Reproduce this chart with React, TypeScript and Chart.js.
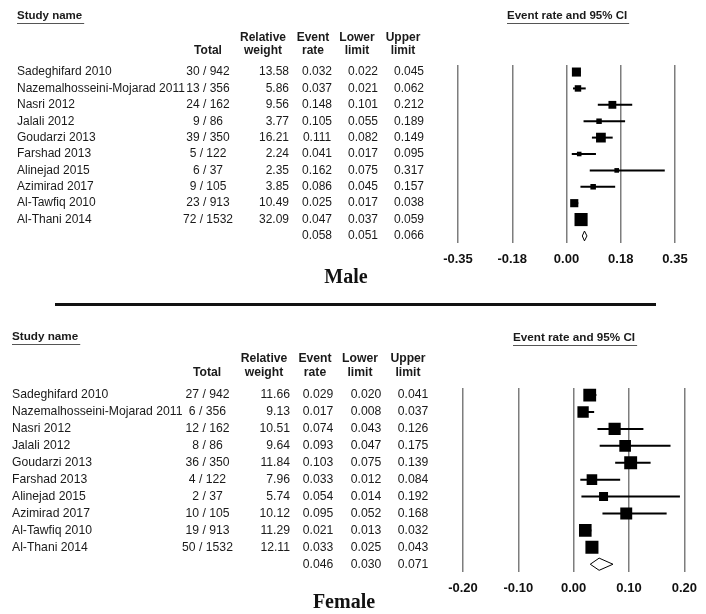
import React, { useEffect, useRef } from 'react';
import { Chart, registerables } from 'chart.js';

Chart.register(...registerables);

// ---------------- DATA ----------------
const studyNames = [
  'Sadeghifard 2010',
  'Nazemalhosseini-Mojarad 2011',
  'Nasri 2012',
  'Jalali 2012',
  'Goudarzi 2013',
  'Farshad 2013',
  'Alinejad 2015',
  'Azimirad 2017',
  'Al-Tawfiq 2010',
  'Al-Thani 2014',
];
const studyTotals = [942, 356, 162, 86, 350, 122, 37, 105, 913, 1532];

const maleEvents = [30, 13, 24, 9, 39, 5, 6, 9, 23, 72];
const maleWeights = [13.58, 5.86, 9.56, 3.77, 16.21, 2.24, 2.35, 3.85, 10.49, 32.09];
const maleRates = [0.032, 0.037, 0.148, 0.105, 0.111, 0.041, 0.162, 0.086, 0.025, 0.047];
const maleLower = [0.022, 0.021, 0.101, 0.055, 0.082, 0.017, 0.075, 0.045, 0.017, 0.037];
const maleUpper = [0.045, 0.062, 0.212, 0.189, 0.149, 0.095, 0.317, 0.157, 0.038, 0.059];
const maleSummary = [0.058, 0.051, 0.066]; // rate, lower, upper
const maleTicks = [-0.35, -0.175, 0, 0.175, 0.35];
const maleTickLabels = ['-0.35', '-0.18', '0.00', '0.18', '0.35'];

const femaleEvents = [27, 6, 12, 8, 36, 4, 2, 10, 19, 50];
const femaleWeights = [11.66, 9.13, 10.51, 9.64, 11.84, 7.96, 5.74, 10.12, 11.29, 12.11];
const femaleRates = [0.029, 0.017, 0.074, 0.093, 0.103, 0.033, 0.054, 0.095, 0.021, 0.033];
const femaleLower = [0.02, 0.008, 0.043, 0.047, 0.075, 0.012, 0.014, 0.052, 0.013, 0.025];
const femaleUpper = [0.041, 0.037, 0.126, 0.175, 0.139, 0.084, 0.192, 0.168, 0.032, 0.043];
const femaleSummary = [0.046, 0.03, 0.071];
const femaleTicks = [-0.2, -0.1, 0, 0.1, 0.2];
const femaleTickLabels = ['-0.20', '-0.10', '0.00', '0.10', '0.20'];

// ---------------- STYLE / LAYOUT ----------------
const SANS = '"Liberation Sans", Arial, Helvetica, sans-serif';
const SERIF = '"Liberation Serif", "Times New Roman", serif';

type Panel = {
  title: string;
  events: number[];
  weights: number[];
  rates: number[];
  lower: number[];
  upper: number[];
  summary: number[];
  ticks: number[];
  tickLabels: string[];
  canvasTop: number;
  height: number;
  chartTop: number;
  chartBottom: number;
  left: number;
  right: number;
  yMin: number;
  yMax: number;
  sizeA: number;
  sizeK: number;
  diamondHalf: number;
  tickPadding: number;
  rowFont: number;
  headFont: number;
  nameX: number;
  studyHeadY: number;
  ciHeadX: number;
  ciHeadY: number;
  head1Y: number;
  head2Y: number;
  totalHeadX: number;
  totalX: number;
  weightHeadX: number;
  weightRight: number;
  eventHeadX: number;
  eventX: number;
  lowerHeadX: number;
  lowerX: number;
  upperHeadX: number;
  upperX: number;
  titleX: number;
  titleY: number;
};

const malePanel: Panel = {
  title: 'Male',
  events: maleEvents,
  weights: maleWeights,
  rates: maleRates,
  lower: maleLower,
  upper: maleUpper,
  summary: maleSummary,
  ticks: maleTicks,
  tickLabels: maleTickLabels,
  canvasTop: 0,
  height: 300,
  chartTop: 65,
  chartBottom: 243,
  left: 458,
  right: 675,
  yMin: -0.43,
  yMax: 10.43,
  sizeA: 1.5,
  sizeK: 2.05,
  diamondHalf: 0.3,
  tickPadding: 9,
  rowFont: 12,
  headFont: 11.5,
  nameX: 17,
  studyHeadY: 16,
  ciHeadX: 507,
  ciHeadY: 16,
  head1Y: 37.5,
  head2Y: 51,
  totalHeadX: 208,
  totalX: 208,
  weightHeadX: 263,
  weightRight: 289,
  eventHeadX: 313,
  eventX: 317,
  lowerHeadX: 357,
  lowerX: 363,
  upperHeadX: 403,
  upperX: 409,
  titleX: 346,
  titleY: 278,
};

const femalePanel: Panel = {
  title: 'Female',
  events: femaleEvents,
  weights: femaleWeights,
  rates: femaleRates,
  lower: femaleLower,
  upper: femaleUpper,
  summary: femaleSummary,
  ticks: femaleTicks,
  tickLabels: femaleTickLabels,
  canvasTop: 310,
  height: 304,
  chartTop: 78,
  chartBottom: 262,
  left: 463,
  right: 686,
  yMin: -0.42,
  yMax: 10.46,
  sizeA: 0,
  sizeK: 3.75,
  diamondHalf: 0.36,
  tickPadding: 9,
  rowFont: 12.2,
  headFont: 11.7,
  nameX: 12,
  studyHeadY: 27,
  ciHeadX: 513,
  ciHeadY: 28,
  head1Y: 49,
  head2Y: 63,
  totalHeadX: 207,
  totalX: 207.5,
  weightHeadX: 264,
  weightRight: 290,
  eventHeadX: 315,
  eventX: 318,
  lowerHeadX: 360,
  lowerX: 366,
  upperHeadX: 408,
  upperX: 413,
  titleX: 344,
  titleY: 293,
};

function underlined(ctx: CanvasRenderingContext2D, text: string, x: number, y: number) {
  ctx.textAlign = 'left';
  ctx.fillText(text, x, y);
  const w = ctx.measureText(text).width;
  ctx.save();
  ctx.strokeStyle = '#555';
  ctx.lineWidth = 1;
  ctx.beginPath();
  ctx.moveTo(x, Math.round(y + 7) + 0.5);
  ctx.lineTo(x + w + 2, Math.round(y + 7) + 0.5);
  ctx.stroke();
  ctx.restore();
}

function tablePlugin(p: Panel) {
  return {
    id: 'tableText',
    afterDraw(chart: any) {
      const ctx: CanvasRenderingContext2D = chart.ctx;
      const ys = chart.scales.y;
      const n = p.rates.length;
      ctx.save();
      ctx.fillStyle = '#1a1a1a';
      ctx.textBaseline = 'middle';

      ctx.font = `bold ${p.headFont}px ${SANS}`;
      underlined(ctx, 'Study name', p.nameX, p.studyHeadY);
      underlined(ctx, 'Event rate and 95% CI', p.ciHeadX, p.ciHeadY);

      ctx.font = `bold ${p.headFont + 0.5}px ${SANS}`;
      ctx.textAlign = 'center';
      ctx.fillText('Total', p.totalHeadX, p.head2Y);
      ctx.fillText('Relative', p.weightHeadX, p.head1Y);
      ctx.fillText('weight', p.weightHeadX, p.head2Y);
      ctx.fillText('Event', p.eventHeadX, p.head1Y);
      ctx.fillText('rate', p.eventHeadX, p.head2Y);
      ctx.fillText('Lower', p.lowerHeadX, p.head1Y);
      ctx.fillText('limit', p.lowerHeadX, p.head2Y);
      ctx.fillText('Upper', p.upperHeadX, p.head1Y);
      ctx.fillText('limit', p.upperHeadX, p.head2Y);

      ctx.font = `${p.rowFont}px ${SANS}`;
      for (let i = 0; i < n; i++) {
        const y = ys.getPixelForValue(i);
        ctx.textAlign = 'left';
        ctx.fillText(studyNames[i], p.nameX, y);
        ctx.textAlign = 'center';
        ctx.fillText(`${p.events[i]} / ${studyTotals[i]}`, p.totalX, y);
        ctx.textAlign = 'right';
        ctx.fillText(p.weights[i].toFixed(2), p.weightRight, y);
        ctx.textAlign = 'center';
        ctx.fillText(p.rates[i].toFixed(3), p.eventX, y);
        ctx.fillText(p.lower[i].toFixed(3), p.lowerX, y);
        ctx.fillText(p.upper[i].toFixed(3), p.upperX, y);
      }
      const ySum = ys.getPixelForValue(n);
      ctx.textAlign = 'center';
      ctx.fillText(p.summary[0].toFixed(3), p.eventX, ySum);
      ctx.fillText(p.summary[1].toFixed(3), p.lowerX, ySum);
      ctx.fillText(p.summary[2].toFixed(3), p.upperX, ySum);

      ctx.fillStyle = '#111';
      ctx.font = `bold 20px ${SERIF}`;
      ctx.fillText(p.title, p.titleX, p.titleY);
      ctx.restore();
    },
  };
}

function makeConfig(p: Panel): any {
  const n = p.rates.length;
  const whiskers = p.rates.map((_, i) => ({
    data: [
      { x: p.lower[i], y: i },
      { x: p.upper[i], y: i },
    ],
    showLine: true,
    borderColor: '#000',
    borderWidth: 2,
    pointRadius: 0,
    pointHoverRadius: 0,
  }));
  const squares = {
    data: p.rates.map((r, i) => ({ x: r, y: i })),
    showLine: false,
    pointStyle: 'rect',
    pointRadius: p.weights.map((w) => (p.sizeA + p.sizeK * Math.sqrt(w)) / Math.SQRT2),
    pointHoverRadius: p.weights.map((w) => (p.sizeA + p.sizeK * Math.sqrt(w)) / Math.SQRT2),
    pointBackgroundColor: '#000',
    pointBorderWidth: 0,
    pointBorderColor: '#000',
  };
  const [est, lo, hi] = p.summary;
  const diamond = {
    data: [
      { x: lo, y: n },
      { x: est, y: n - p.diamondHalf },
      { x: hi, y: n },
      { x: est, y: n + p.diamondHalf },
      { x: lo, y: n },
    ],
    showLine: true,
    borderColor: '#000',
    borderWidth: 1,
    backgroundColor: '#fff',
    fill: false,
    tension: 0,
    pointRadius: 0,
    pointHoverRadius: 0,
  };

  return {
    type: 'scatter',
    data: { datasets: [...whiskers, squares, diamond] },
    options: {
      animation: false,
      responsive: false,
      events: [],
      layout: {
        padding: { left: p.left, right: 706 - p.right, top: p.chartTop, bottom: 0 },
      },
      plugins: { legend: { display: false }, tooltip: { enabled: false } },
      scales: {
        x: {
          type: 'linear',
          min: p.ticks[0],
          max: p.ticks[p.ticks.length - 1],
          afterBuildTicks: (s: any) => {
            s.ticks = p.ticks.map((v) => ({ value: v }));
          },
          afterFit: (s: any) => {
            s.height = p.height - p.chartBottom;
          },
          ticks: {
            autoSkip: false,
            maxRotation: 0,
            padding: p.tickPadding,
            color: '#111',
            font: { family: SANS, size: 13, weight: 'bold' },
            callback: (_v: any, i: number) => p.tickLabels[i],
          },
          grid: { color: '#7d7d7d', lineWidth: 1.5, drawTicks: false },
          border: { display: false },
        },
        y: {
          type: 'linear',
          display: false,
          reverse: true,
          min: p.yMin,
          max: p.yMax,
        },
      },
    },
    plugins: [tablePlugin(p)],
  };
}

function ForestPanel({ panel }: { panel: Panel }) {
  const ref = useRef<HTMLCanvasElement | null>(null);
  useEffect(() => {
    if (!ref.current) return;
    const chart = new Chart(ref.current, makeConfig(panel));
    return () => chart.destroy();
  }, [panel]);
  return (
    <canvas
      ref={ref}
      width={706}
      height={panel.height}
      style={{ position: 'absolute', left: 0, top: panel.canvasTop, width: 706, height: panel.height }}
    />
  );
}

export default function App() {
  return (
    <div
      style={{
        position: 'absolute',
        left: 0,
        top: 0,
        width: 706,
        height: 614,
        background: '#fff',
        overflow: 'hidden',
      }}
    >
      <ForestPanel panel={malePanel} />
      <div
        style={{ position: 'absolute', left: 55, top: 303, width: 601, height: 3, background: '#111' }}
      />
      <ForestPanel panel={femalePanel} />
    </div>
  );
}
